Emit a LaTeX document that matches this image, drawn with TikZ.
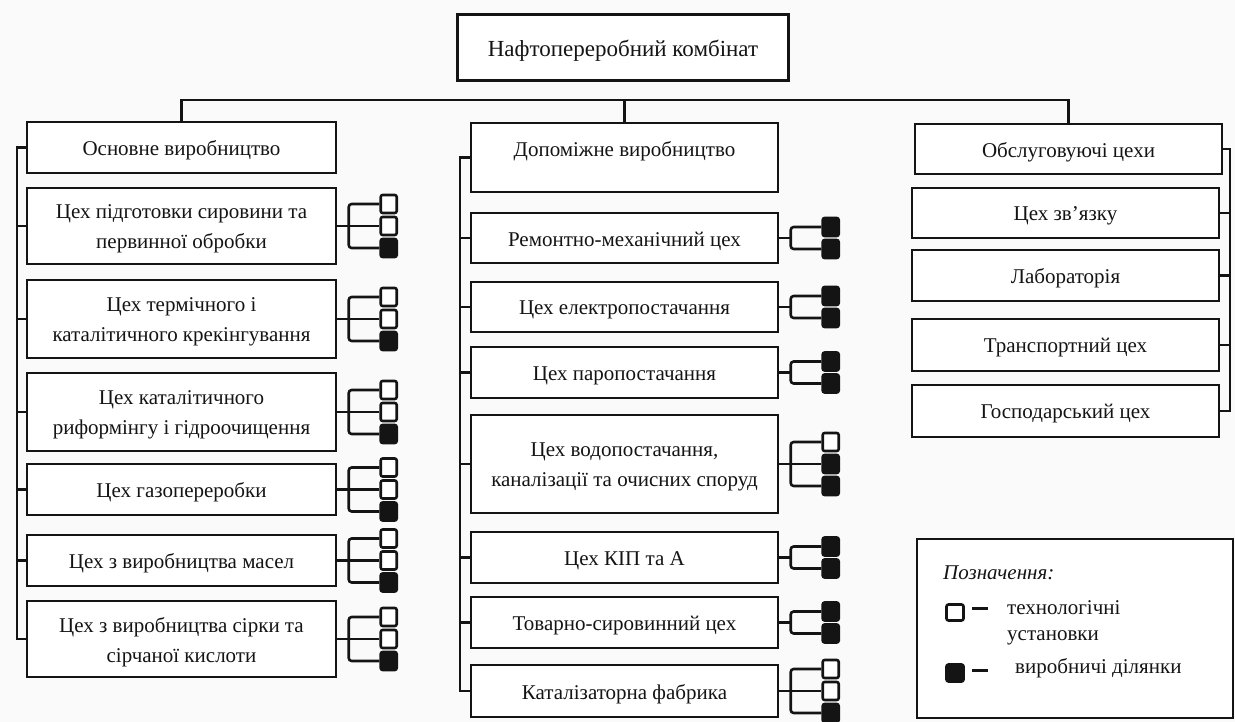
\documentclass[tikz,border=0pt]{standalone}
\usepackage{fontspec}
\setmainfont{Liberation Serif}
\usetikzlibrary{calc}
\definecolor{paper}{RGB}{250,250,250}
\definecolor{ink}{RGB}{20,20,20}

% a framed box given by its corners, with its text: name, x1, y1, x2, y2, text
\newcommand{\orgbox}[6]{%
  \node[box, minimum width={#4-#2}, minimum height={#5-#3}] (#1)
    at ({(#2+#4)/2},{(#3+#5)/2}) {};
  \node[boxtext] (#1-t) at ($(#1.center)+(0,3)$) {#6};}

% three units beside a box: name, types of upper, middle, lower unit
\newcommand{\unitsthree}[4]{%
  \coordinate (#1-b) at ($(#1.east)+(12,0)$);
  \node[#2] (#1-s1) at ($(#1.east)+(52,-22)$) {};
  \node[#3] (#1-s2) at ($(#1.east)+(52,0)$) {};
  \node[#4] (#1-s3) at ($(#1.east)+(52,22)$) {};
  \draw[link, rounded corners=3pt] (#1-s1.west) -| (#1-b) |- (#1-s3.west);
  \draw[link] (#1.east) -- (#1-s2.west);}

% two units beside a box: name, types of upper and lower unit
\newcommand{\unitstwo}[3]{%
  \coordinate (#1-b) at ($(#1.east)+(12,0)$);
  \node[#2] (#1-s1) at ($(#1.east)+(52,-11)$) {};
  \node[#3] (#1-s2) at ($(#1.east)+(52,11)$) {};
  \draw[link, rounded corners=3pt] (#1-s1.west) -| (#1-b) |- (#1-s2.west);
  \draw[link] (#1.east) -- (#1-b);}

\begin{document}
\begin{tikzpicture}[x=1pt, y=-1pt,
  box/.style={draw=ink, line width=1.4pt, inner sep=0pt, fill=white},
  boxtext/.style={inner sep=0pt, align=center, text=ink,
    font=\fontsize{21}{30}\selectfont},
  link/.style={draw=ink, line width=2.6pt},
  unit/.style={draw=ink, line width=2.6pt, rounded corners=2pt,
    minimum width=16, minimum height=18, inner sep=0pt},
  wsq/.style={unit, fill=white},
  bsq/.style={unit, fill=ink},
  legtext/.style={anchor=west, inner sep=0pt, text=ink,
    font=\fontsize{21}{24}\selectfont}
]
\fill[paper] (0,0) rectangle (1235,722);
\useasboundingbox (0,0) rectangle (1235,722);

% root
\orgbox{root}{458}{15}{788}{80}{\fontsize{23}{28}\selectfont Нафтопереробний комбінат}
\draw[ink, line width=3.2pt] (root.north west) rectangle (root.south east);

% three branches
\orgbox{osn}{27}{122}{336}{173}{Основне виробництво}
\orgbox{dop}{471}{123}{778}{192}{}
\node[boxtext] (dop-title) at ($(dop.center)+(0,-6)$) {Допоміжне виробництво};
\orgbox{obs}{915}{124}{1222}{174}{Обслуговуючі цехи}

\coordinate (busy) at (0,100);
\draw[link] (osn.north) |- (obs.north |- busy) -- (obs.north);
\draw[link] (dop.north) -- (dop.north |- busy);

% main production
\orgbox{l1}{27}{188}{336}{264}{Цех підготовки сировини та\\первинної обробки}
\orgbox{l2}{27}{280}{336}{358}{Цех термічного і\\каталітичного крекінгування}
\orgbox{l3}{27}{373}{336}{451}{Цех каталітичного\\риформінгу і гідроочищення}
\orgbox{l4}{27}{464}{336}{515}{Цех газопереробки}
\orgbox{l5}{27}{535}{336}{586}{Цех з виробництва масел}
\orgbox{l6}{27}{601}{336}{677}{Цех з виробництва сірки та\\сірчаної кислоти}

\coordinate (lx) at (17,0);
\draw[link] (osn.west) -- (osn.west -| lx) -- (l6.west -| lx) -- (l6.west);
\foreach \b in {l1,l2,l3,l4,l5}{\draw[link] (\b.west) -- (\b.west -| lx);}

\unitsthree{l1}{wsq}{wsq}{bsq}
\unitsthree{l2}{wsq}{wsq}{bsq}
\unitsthree{l3}{wsq}{wsq}{bsq}
\unitsthree{l4}{wsq}{wsq}{bsq}
\unitsthree{l5}{wsq}{wsq}{bsq}
\unitsthree{l6}{wsq}{wsq}{bsq}

% auxiliary production
\orgbox{m1}{471}{213}{778}{263}{Ремонтно-механічний цех}
\orgbox{m2}{471}{282}{778}{332}{Цех електропостачання}
\orgbox{m3}{471}{347}{778}{398}{Цех паропостачання}
\orgbox{m4}{471}{415}{778}{513}{Цех водопостачання,\\каналізації та очисних споруд}
\orgbox{m5}{471}{532}{778}{583}{Цех КІП та А}
\orgbox{m6}{471}{597}{778}{648}{Товарно-сировинний цех}
\orgbox{m7}{471}{665}{778}{717}{Каталізаторна фабрика}

\coordinate (mx) at (460,0);
\draw[link] (dop.west) -- (dop.west -| mx) -- (m7.west -| mx) -- (m7.west);
\foreach \b in {m1,m2,m3,m4,m5,m6}{\draw[link] (\b.west) -- (\b.west -| mx);}

\unitstwo{m1}{bsq}{bsq}
\unitstwo{m2}{bsq}{bsq}
\unitstwo{m3}{bsq}{bsq}
\unitsthree{m4}{wsq}{bsq}{bsq}
\unitstwo{m5}{bsq}{bsq}
\unitstwo{m6}{bsq}{bsq}
\unitsthree{m7}{wsq}{wsq}{bsq}

% service shops
\orgbox{r1}{912}{188}{1219}{238}{Цех зв’язку}
\orgbox{r2}{912}{250}{1219}{301}{Лабораторія}
\orgbox{r3}{912}{319}{1219}{371}{Транспортний цех}
\orgbox{r4}{912}{385}{1219}{437}{Господарський цех}

\coordinate (rx) at (1230,0);
\draw[link] (obs.east) -- (obs.east -| rx) -- (r4.east -| rx) -- (r4.east);
\foreach \b in {r1,r2,r3}{\draw[link] (\b.east) -- (\b.east -| rx);}

% legend
\node[draw=ink, line width=2pt, fill=white, minimum width=316, minimum height=179]
  (leg) at (1075,628.5) {};
\node[legtext] (legtitle) at (943,573) {\itshape Позначення:};
\node[wsq, minimum width=17, minimum height=16] (legw) at (955,612.5) {};
\node[legtext] (legwdash) at (972,608) {\rule[0pt]{16pt}{3pt}};
\node[legtext] (legwtext) at (1007,608) {технологічні};
\node[legtext] (legwtext2) at (1007,638) {установки};
\node[bsq, minimum width=17, minimum height=17] (legb) at (955,673) {};
\node[legtext] (legbdash) at (972,670) {\rule[0pt]{16pt}{3pt}};
\node[legtext] (legbtext) at (1015,668) {виробничі ділянки};
\end{tikzpicture}
\end{document}
